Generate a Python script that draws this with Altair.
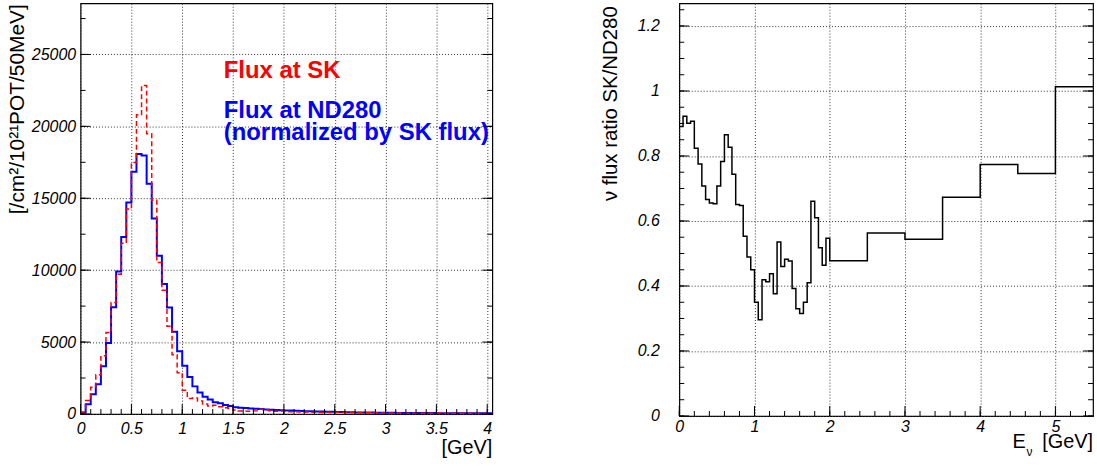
import altair as alt
import pandas as pd
import numpy as np

# ---------------- data ----------------
# Left panel: 50 MeV bins from 0 to 4.05 GeV
flux_edges = [round(0.05 * i, 2) for i in range(82)]
nd280_norm = [100, 670, 1380, 2070, 3320, 4930, 7430, 9900, 12310, 14710,
              16850, 18070, 17970, 16010, 13600, 11000, 9040, 7410, 5720, 4370,
              3350, 2580, 1920, 1500, 1200, 1010, 820, 740, 630, 560,
              470, 440, 410, 385, 360, 340, 320, 300, 282, 265,
              250, 236, 222, 210, 198, 187, 176, 166, 157, 148,
              140, 132, 125, 118, 112, 106, 101, 96, 92, 88,
              84, 81, 78, 75, 72, 70, 68, 66, 64, 62,
              60, 58, 57, 55, 54, 52, 51, 50, 48, 47,
              46]
sk_flux = [130, 930, 1860, 2730, 4050, 5660, 7750, 9720, 11870, 14250,
           17480, 20800, 22840, 19480, 14860, 10530, 8600, 6100, 4120, 2860,
           1650, 1080, 1120, 900, 700, 560, 600, 500, 430, 380,
           270, 213, 190, 198, 217, 330, 287, 228, 192, 213,
           180, 160, 162, 140, 145, 125, 130, 112, 115, 100,
           120, 105, 108, 95, 96, 85, 88, 76, 79, 70,
           70, 62, 64, 58, 60, 54, 56, 51, 52, 48,
           62, 55, 58, 52, 55, 49, 52, 48, 50, 45,
           52]

# Right panel: ratio SK/ND280
ratio_edges = [round(0.05 * i, 2) for i in range(41)] + [2.5, 3.0, 3.5, 4.0, 4.5, 5.0, 5.5]
ratio_vals = [0.891, 0.922, 0.901, 0.907, 0.824, 0.775, 0.708, 0.666, 0.655, 0.653,
              0.708, 0.783, 0.865, 0.827, 0.744, 0.651, 0.648, 0.553, 0.489, 0.450,
              0.350, 0.296, 0.419, 0.413, 0.438, 0.376, 0.535, 0.460, 0.482, 0.477,
              0.392, 0.330, 0.315, 0.350, 0.410, 0.661, 0.610, 0.518, 0.464, 0.547,
              0.478, 0.563, 0.544, 0.673, 0.774, 0.746, 1.013]

# axis tick values / labels
lx_major = [0, 0.5, 1, 1.5, 2, 2.5, 3, 3.5, 4]
lx_minor = [round(0.1 * i, 1) for i in range(41)]
ly_major = [0, 5000, 10000, 15000, 20000, 25000]
ly_minor = [2500 * i for i in range(12)]
rx_major = [0, 1, 2, 3, 4, 5]
rx_minor = [round(0.2 * i, 1) for i in range(28)]
ry_major = [0, 0.2, 0.4, 0.6, 0.8, 1, 1.2]
ry_minor = [round(0.05 * i, 2) for i in range(26)]

legend_sk = "Flux at SK"
legend_nd1 = "Flux at ND280"
legend_nd2 = "(normalized by SK flux)"
left_ytitle = "[/cm\u00b2/10\u00b2\u00b9POT/50MeV]"
left_xtitle = "[GeV]"
right_ytitle = "\u03bd flux ratio SK/ND280"

FONT = "Liberation Sans"


def step_df(edges, values):
    xs = list(edges[:-1]) + [edges[-1]]
    ys = list(values) + [values[-1]]
    return pd.DataFrame({"x": xs, "y": ys})


def ticks_layer(xmaj, xmin, ymaj, ymin, xs, ys, xa, ya, W, H):
    layers = []
    for vals, L in ((xmaj, 10), (xmin, 5)):
        layers.append(alt.Chart(pd.DataFrame({"x": vals})).mark_rule(color="black", strokeWidth=1).encode(
            x=alt.X("x:Q", scale=xs, axis=xa), y=alt.value(H), y2=alt.value(H - L)))
    for vals, L in ((ymaj, 10), (ymin, 5)):
        d = pd.DataFrame({"y": vals})
        layers.append(alt.Chart(d).mark_rule(color="black", strokeWidth=1).encode(
            y=alt.Y("y:Q", scale=ys, axis=ya), x=alt.value(0), x2=alt.value(L)))
        layers.append(alt.Chart(d).mark_rule(color="black", strokeWidth=1).encode(
            y=alt.Y("y:Q", scale=ys, axis=ya), x=alt.value(W - L), x2=alt.value(W)))
    return layers


def text(t, x, y, size, color="black", bold=False, angle=0, align="left", baseline="alphabetic"):
    kw = dict(text=t, fontSize=size, color=color, font=FONT, align=align, baseline=baseline)
    if bold:
        kw["fontWeight"] = "bold"
    if angle:
        kw["angle"] = angle
    return alt.Chart(pd.DataFrame({"a": [0]})).mark_text(**kw).encode(x=alt.value(x), y=alt.value(y))


axis_common = dict(grid=True, gridDash=[1, 2], gridColor="#333", gridWidth=1, ticks=False, domain=False,
                   labelFont=FONT, labelFontStyle="italic", labelFontSize=16, labelColor="black",
                   labelFlush=False, labelOverlap=False, labelBound=False,
                   title=None, labelExpr="'' + datum.value")

# ---------------- left panel ----------------
W1, H1 = 414, 413
xs1 = alt.Scale(domain=[0, 4.05], nice=False, zero=False)
ys1 = alt.Scale(domain=[0, 28560], nice=False)
xa1 = alt.Axis(values=lx_major, labelPadding=7, **axis_common)
ya1 = alt.Axis(values=ly_major, labelPadding=5, **axis_common)

blue = alt.Chart(step_df(flux_edges, nd280_norm)).mark_line(
    interpolate="step-after", color="#0000ff", strokeWidth=2).encode(
    x=alt.X("x:Q", scale=xs1, axis=xa1), y=alt.Y("y:Q", scale=ys1, axis=ya1))
red = alt.Chart(step_df(flux_edges, sk_flux)).mark_line(
    interpolate="step-after", color="#ff0000", strokeWidth=1.5, strokeDash=[5, 3]).encode(
    x=alt.X("x:Q", scale=xs1, axis=xa1), y=alt.Y("y:Q", scale=ys1, axis=ya1))

left = alt.layer(
    blue, red,
    *ticks_layer(lx_major, lx_minor, ly_major, ly_minor, xs1, ys1, xa1, ya1, W1, H1),
    text(legend_sk, 144, 75, 24, color="#ff0000", bold=True),
    text(legend_nd1, 144, 115.5, 24, color="#0000ff", bold=True),
    text(legend_nd2, 144, 138, 24, color="#0000ff", bold=True),
    text(left_ytitle, -57, 1, 21, angle=270, align="right"),
    text(left_xtitle, W1, 453, 20, align="right"),
).properties(width=W1, height=H1)

# ---------------- right panel ----------------
W2, H2 = 416, 415
xs2 = alt.Scale(domain=[0, 5.5], nice=False, zero=False)
ys2 = alt.Scale(domain=[0, 1.27], nice=False)
xa2 = alt.Axis(values=rx_major, labelPadding=3, **axis_common)
ya2 = alt.Axis(values=ry_major, labelPadding=20, **axis_common)

ratio = alt.Chart(step_df(ratio_edges, ratio_vals)).mark_line(
    interpolate="step-after", color="black", strokeWidth=1.5).encode(
    x=alt.X("x:Q", scale=xs2, axis=xa2), y=alt.Y("y:Q", scale=ys2, axis=ya2))

right = alt.layer(
    ratio,
    *ticks_layer(rx_major, rx_minor, ry_major, ry_minor, xs2, ys2, xa2, ya2, W2, H2),
    text(right_ytitle, -63, 3, 20.5, angle=270, align="right"),
    text("E", 335, 447, 20),
    text("\u03bd", 349, 455, 12),
    text("[GeV]", W2, 447, 20, align="right"),
).properties(width=W2, height=H2)

chart = alt.hconcat(left, right, spacing=188, bounds="flush").properties(
    padding={"left": 6, "top": 1, "right": 0, "bottom": 0}
).configure_view(stroke="black", strokeWidth=1.2)

chart.save("out.html", embed_options={"renderer": "svg", "actions": False})
